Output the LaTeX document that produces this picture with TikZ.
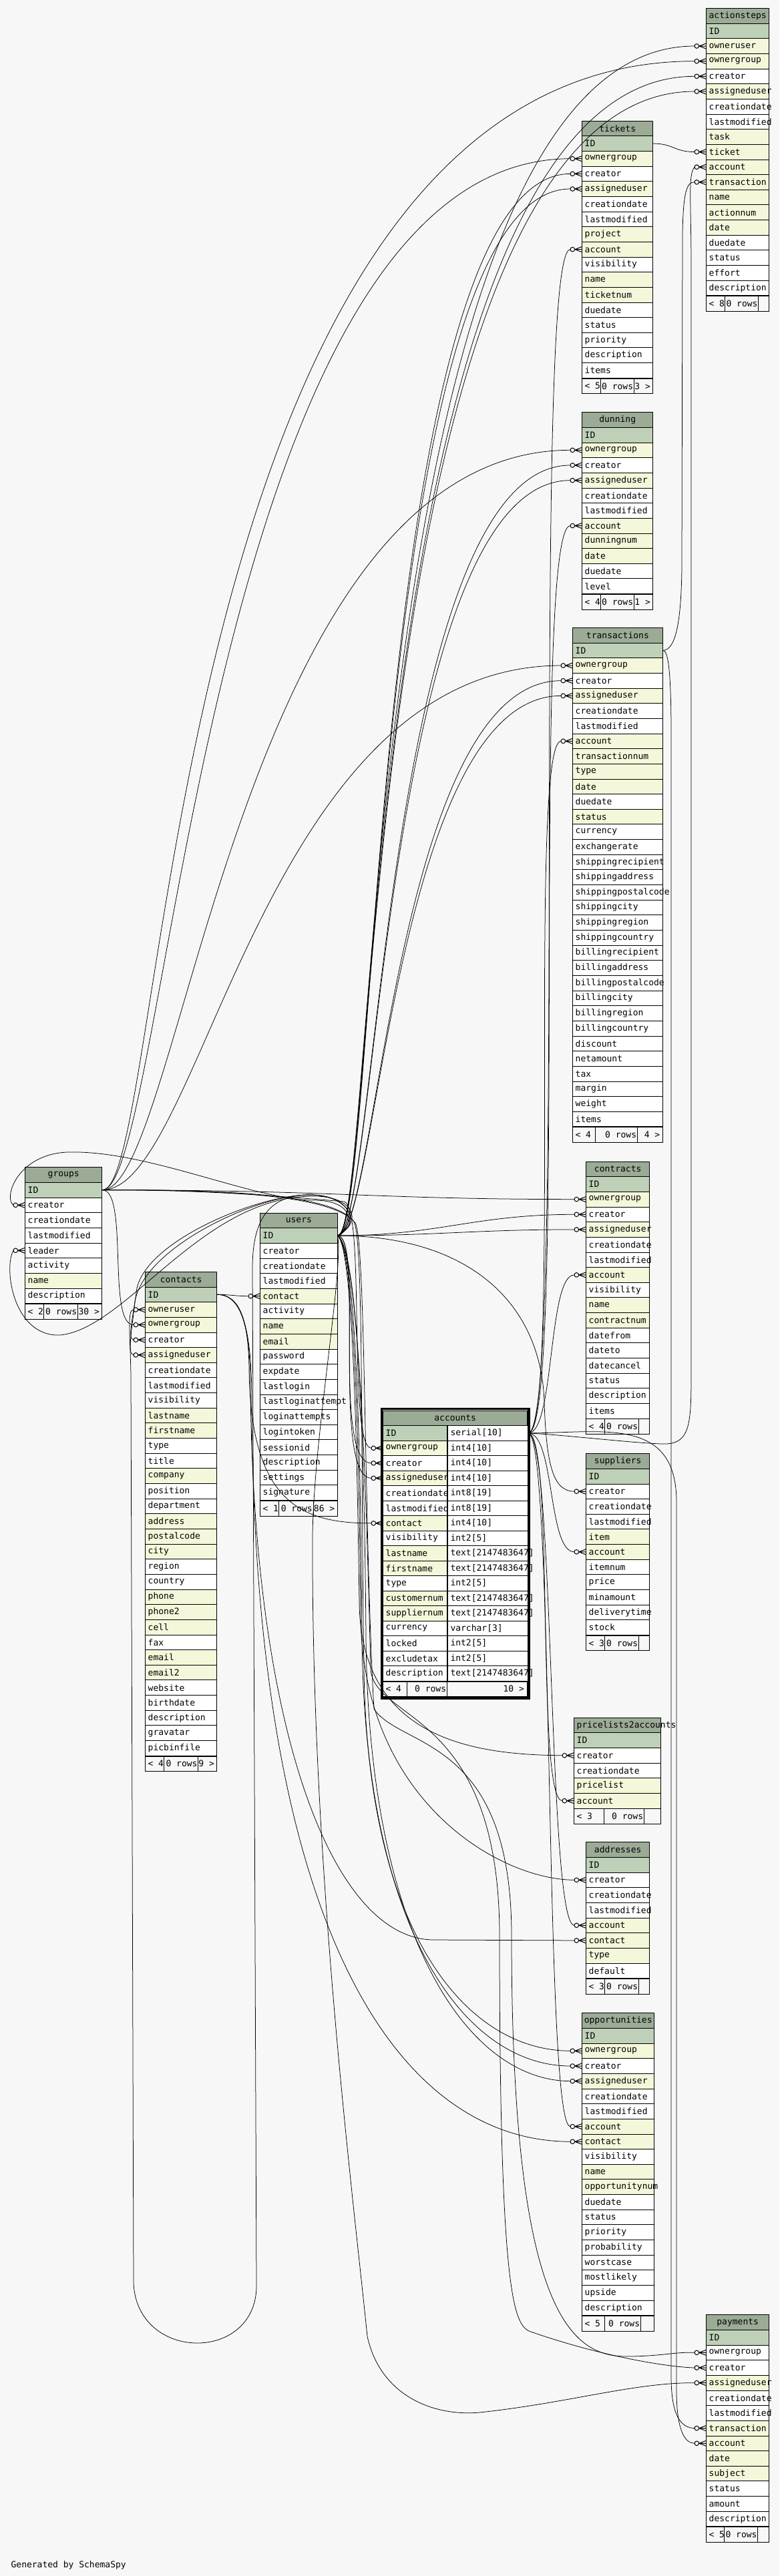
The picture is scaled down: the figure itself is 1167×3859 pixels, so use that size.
\documentclass[tikz,border=0pt]{standalone}
\usepackage{fontspec}
\setmonofont{DejaVu Sans Mono}
\usepackage{xcolor}
\usetikzlibrary{calc}

\definecolor{pagebg}{HTML}{F7F7F7}
\definecolor{hd}{HTML}{9BAB96}
\definecolor{pk}{HTML}{BED1B8}
\definecolor{ix}{HTML}{F4F7DA}
\colorlet{wh}{white}

\tikzset{
  cell/.style={draw=black, line width=0.8pt, anchor=north west, inner xsep=4pt, inner ysep=0pt,
    minimum height=22.65pt, font=\ttfamily\fontsize{13}{14}\selectfont},
  head/.style={cell, fill=hd},
  foot/.style={cell, fill=pagebg},
  ftxt/.style={inner sep=0pt, font=\ttfamily\fontsize{13}{14}\selectfont},
  rel/.style={draw=black, line width=0.75pt},
  crow/.style={draw=black, line width=1pt},
  frame/.style={draw=black, line width=3.5pt},
}

% table: [title align] name, x, y, width, rows
\newcommand{\dbtable}[6][c]{%
  \node[head, minimum width=#5pt] (#2) at (#3,#4) {\makebox[\dimexpr#5pt-8pt\relax][#1]{#2}};
  \foreach \f/\c [count=\n] in {#6}
    \node[cell, fill=\c, minimum width=#5pt] (#2-\f) at (#3,#4+22.65*\n)
      {\makebox[\dimexpr#5pt-8pt\relax][l]{\f}};
}
% footer: table, last row, width, d1, d2, left, mid, right
\newcommand{\dbfoot}[8]{%
  \node[foot, minimum width=#3pt] (#1-foot) at (#2.south west) {};
  \draw[line width=0.8pt] ([xshift=#4pt]#1-foot.north west) -- ([xshift=#4pt]#1-foot.south west)
    ([xshift=#5pt]#1-foot.north west) -- ([xshift=#5pt]#1-foot.south west);
  \node[ftxt, anchor=west] (#1-fa) at ([xshift=4pt]#1-foot.west) {#6};
  \node[ftxt, anchor=east] (#1-fb) at ([xshift=#5pt-1pt]#1-foot.west) {#7};
  \node[ftxt, anchor=east] (#1-fc) at ([xshift=-4pt]#1-foot.east) {#8};
}
% zero-or-many end at a column
\newcommand{\fk}[1]{%
  \draw[crow] ([xshift=-10.5pt]#1.west) -- ([yshift=4pt]#1.west)
    ([xshift=-10.5pt]#1.west) -- (#1.west)
    ([xshift=-10.5pt]#1.west) -- ([yshift=-4pt]#1.west);
  \draw[crow, fill=pagebg] ([xshift=-14pt]#1.west) circle (3.3pt);
  \coordinate (#1-fk) at ([xshift=-17.3pt]#1.west);
}
\newcommand{\rel}[4]{\draw[rel] (#1) .. controls ($(#1)+(#3,0)$) and ($(#2)+(-#4,0)$) .. (#2);}

\begin{document}
\begin{tikzpicture}[x=1pt, y=-1pt]
\fill[pagebg] (0,0) rectangle (1167,3859);
\useasboundingbox (0,0) rectangle (1167,3859);

\dbtable{actionsteps}{1057.3}{12}{94}{ID/pk, owneruser/ix, ownergroup/ix, creator/wh, assigneduser/ix,
  creationdate/wh, lastmodified/wh, task/ix, ticket/ix, account/ix, transaction/ix, name/ix,
  actionnum/ix, date/ix, duedate/wh, status/wh, effort/wh, description/wh}
\dbfoot{actionsteps}{actionsteps-description}{94}{28}{78.4}{< 8}{0 rows}{}

\dbtable{tickets}{871.3}{180.7}{106}{ID/pk, ownergroup/ix, creator/wh, assigneduser/ix, creationdate/wh,
  lastmodified/wh, project/ix, account/ix, visibility/wh, name/ix, ticketnum/ix, duedate/wh,
  status/wh, priority/wh, description/wh, items/wh}
\dbfoot{tickets}{tickets-items}{106}{28}{78}{< 5}{0 rows}{3 >}

\dbtable{dunning}{871.3}{617.3}{106}{ID/pk, ownergroup/ix, creator/wh, assigneduser/ix, creationdate/wh,
  lastmodified/wh, account/ix, dunningnum/ix, date/ix, duedate/wh, level/wh}
\dbfoot{dunning}{dunning-level}{106}{28}{78}{< 4}{0 rows}{1 >}

\dbtable{transactions}{857.3}{940}{134.4}{ID/pk, ownergroup/ix, creator/wh, assigneduser/ix,
  creationdate/wh, lastmodified/wh, account/ix, transactionnum/ix, type/ix, date/ix, duedate/wh,
  status/ix, currency/wh, exchangerate/wh, shippingrecipient/wh, shippingaddress/wh,
  shippingpostalcode/wh, shippingcity/wh, shippingregion/wh, shippingcountry/wh,
  billingrecipient/wh, billingaddress/wh, billingpostalcode/wh, billingcity/wh, billingregion/wh,
  billingcountry/wh, discount/wh, netamount/wh, tax/wh, margin/wh, weight/wh, items/wh}
\dbfoot{transactions}{transactions-items}{134.4}{34}{97}{< 4}{0 rows}{4 >}

\dbtable{groups}{37.3}{1748.3}{115}{ID/pk, creator/wh, creationdate/wh, lastmodified/wh, leader/wh,
  activity/wh, name/ix, description/wh}
\dbfoot{groups}{groups-description}{115}{28}{79}{< 2}{0 rows}{30 >}

\dbtable{users}{389.3}{1816.7}{115.4}{ID/pk, creator/wh, creationdate/wh, lastmodified/wh, contact/ix,
  activity/wh, name/ix, email/ix, password/wh, expdate/wh, lastlogin/wh, lastloginattempt/wh,
  loginattempts/wh, logintoken/wh, sessionid/wh, description/wh, settings/wh, signature/wh}
\dbfoot{users}{users-signature}{115.4}{28.4}{79.7}{< 1}{0 rows}{86 >}

\dbtable{contacts}{217.3}{1904.9}{107}{ID/pk, owneruser/ix, ownergroup/ix, creator/wh, assigneduser/ix,
  creationdate/wh, lastmodified/wh, visibility/wh, lastname/ix, firstname/ix, type/wh, title/wh,
  company/ix, position/wh, department/wh, address/ix, postalcode/ix, city/ix, region/wh,
  country/wh, phone/ix, phone2/ix, cell/ix, fax/wh, email/ix, email2/ix, website/wh,
  birthdate/wh, description/wh, gravatar/wh, picbinfile/wh}
\dbfoot{contacts}{contacts-picbinfile}{107}{28}{79.4}{< 4}{0 rows}{9 >}

\dbtable{contracts}{877.3}{1739.6}{95}{ID/pk, ownergroup/ix, creator/wh, assigneduser/ix, creationdate/wh,
  lastmodified/wh, account/ix, visibility/wh, name/ix, contractnum/ix, datefrom/wh, dateto/wh,
  datecancel/wh, status/wh, description/wh, items/wh}
\dbfoot{contracts}{contracts-items}{95}{28}{79}{< 4}{0 rows}{}

\dbtable{suppliers}{877.3}{2177.2}{95}{ID/pk, creator/wh, creationdate/wh, lastmodified/wh, item/ix,
  account/ix, itemnum/wh, price/wh, minamount/wh, deliverytime/wh, stock/wh}
\dbfoot{suppliers}{suppliers-stock}{95}{28}{79}{< 3}{0 rows}{}

% accounts, with column types
\node[head, minimum width=216pt, minimum height=22.5pt] (accounts) at (573.3,2112.7)
  {\makebox[208pt][c]{accounts}};
\foreach \f/\c/\ty [count=\n] in {ID/pk/serial[10], ownergroup/ix/int4[10], creator/wh/int4[10],
  assigneduser/ix/int4[10], creationdate/wh/int8[19], lastmodified/wh/int8[19], contact/ix/int4[10],
  visibility/wh/int2[5], lastname/ix/text[2147483647], firstname/ix/text[2147483647], type/wh/int2[5],
  customernum/ix/text[2147483647], suppliernum/ix/text[2147483647], currency/wh/varchar[3],
  locked/wh/int2[5], excludetax/wh/int2[5], description/wh/text[2147483647]} {
  \node[cell, fill=\c, minimum width=96pt, minimum height=22.5pt] (accounts-\f) at (573.3,2112.7+22.5*\n)
    {\makebox[88pt][l]{\f}};
  \node[cell, fill=white, minimum width=120pt, minimum height=22.5pt] (accounts-\f-type) at (accounts-\f.north east)
    {\makebox[112pt][l]{\ty}};
}
\node[foot, minimum width=216pt, minimum height=22.5pt] (accounts-foot) at (accounts-description.south west) {};
\draw[line width=0.8pt] ([xshift=36pt]accounts-foot.north west) -- ([xshift=36pt]accounts-foot.south west)
  ([xshift=96pt]accounts-foot.north west) -- ([xshift=96pt]accounts-foot.south west);
\node[ftxt, anchor=west] (accounts-fa) at ([xshift=4pt]accounts-foot.west) {< 4};
\node[ftxt, anchor=east] (accounts-fb) at ([xshift=95pt]accounts-foot.west) {0 rows};
\node[ftxt, anchor=east] (accounts-fc) at ([xshift=-5pt]accounts-foot.east) {10 >};
\draw[frame] ([shift={(-2pt,2pt)}]accounts.north west) rectangle ([shift={(2pt,-2pt)}]accounts-foot.south east);

\dbtable[l]{pricelists2accounts}{859.3}{2572.7}{130}{ID/pk, creator/wh, creationdate/wh, pricelist/ix, account/ix}
\dbfoot{pricelists2accounts}{pricelists2accounts-account}{130}{45}{105}{< 3}{0 rows}{}

\dbtable{addresses}{877.3}{2759.3}{95}{ID/pk, creator/wh, creationdate/wh, lastmodified/wh, account/ix,
  contact/ix, type/ix, default/wh}
\dbfoot{addresses}{addresses-default}{95}{28}{79}{< 3}{0 rows}{}

\dbtable{opportunities}{871.3}{3015.3}{108}{ID/pk, ownergroup/ix, creator/wh, assigneduser/ix,
  creationdate/wh, lastmodified/wh, account/ix, contact/ix, visibility/wh, name/ix,
  opportunitynum/ix, duedate/wh, status/wh, priority/wh, probability/wh, worstcase/wh,
  mostlikely/wh, upside/wh, description/wh}
\dbfoot{opportunities}{opportunities-description}{108}{34}{88}{< 5}{0 rows}{}

\dbtable{payments}{1057.3}{3467.3}{94}{ID/pk, ownergroup/wh, creator/wh, assigneduser/ix, creationdate/wh,
  lastmodified/wh, transaction/ix, account/ix, date/ix, subject/ix, status/wh, amount/wh, description/wh}
\dbfoot{payments}{payments-description}{94}{27.5}{77.4}{< 5}{0 rows}{}

\node[ftxt, anchor=west] (credit) at (16.4,3842.7) {Generated by SchemaSpy};

% many-ends
\foreach \r in {actionsteps-owneruser, actionsteps-ownergroup, actionsteps-creator, actionsteps-assigneduser,
  actionsteps-ticket, actionsteps-account, actionsteps-transaction,
  tickets-ownergroup, tickets-creator, tickets-assigneduser, tickets-account,
  dunning-ownergroup, dunning-creator, dunning-assigneduser, dunning-account,
  transactions-ownergroup, transactions-creator, transactions-assigneduser, transactions-account,
  groups-creator, groups-leader, users-contact,
  contacts-owneruser, contacts-ownergroup, contacts-creator, contacts-assigneduser,
  contracts-ownergroup, contracts-creator, contracts-assigneduser, contracts-account,
  accounts-ownergroup, accounts-creator, accounts-assigneduser, accounts-contact,
  suppliers-creator, suppliers-account, pricelists2accounts-creator, pricelists2accounts-account,
  addresses-creator, addresses-account, addresses-contact,
  opportunities-ownergroup, opportunities-creator, opportunities-assigneduser, opportunities-account,
  opportunities-contact, payments-ownergroup, payments-creator, payments-assigneduser,
  payments-transaction, payments-account}
  \fk{\r};

% groups
\rel{groups-ID.east}{actionsteps-ownergroup-fk}{100}{800}
\rel{groups-ID.east}{tickets-ownergroup-fk}{100}{550}
\rel{groups-ID.east}{dunning-ownergroup-fk}{120}{500}
\rel{groups-ID.east}{transactions-ownergroup-fk}{150}{450}
\rel{groups-ID.east}{contacts-ownergroup-fk}{40}{40}
\rel{groups-ID.east}{contracts-ownergroup-fk}{350}{300}
\draw[rel] (groups-ID.east) .. controls (300,1782) and (420,1792) .. (515,1800)
  .. controls (548,1805) and (520,2169) .. (accounts-ownergroup-fk);
\draw[rel] (groups-ID.east) .. controls (350,1782) and (500,1790) .. (530,1830)
  .. controls (545,1860) and (540,2200) .. (545,2500) .. controls (550,2900) and (700,3072) .. (opportunities-ownergroup-fk);
\draw[rel] (groups-ID.east) .. controls (350,1782) and (500,1792) .. (532,1832)
  .. controls (548,1860) and (545,2300) .. (560,2560) .. controls (600,2620) and (766,2600) .. (766,2900)
  .. controls (766,3450) and (850,3530) .. (937,3530) .. controls (990,3530) and (1010,3523) .. (payments-ownergroup-fk);

% users
\rel{users-ID.east}{actionsteps-owneruser-fk}{60}{500}
\rel{users-ID.east}{actionsteps-creator-fk}{60}{500}
\rel{users-ID.east}{actionsteps-assigneduser-fk}{60}{500}
\rel{users-ID.east}{tickets-creator-fk}{60}{300}
\rel{users-ID.east}{tickets-assigneduser-fk}{60}{300}
\rel{users-ID.east}{dunning-creator-fk}{60}{280}
\rel{users-ID.east}{dunning-assigneduser-fk}{60}{280}
\rel{users-ID.east}{transactions-creator-fk}{60}{250}
\rel{users-ID.east}{transactions-assigneduser-fk}{60}{250}
\rel{users-ID.east}{contracts-creator-fk}{150}{150}
\rel{users-ID.east}{contracts-assigneduser-fk}{150}{150}
\rel{users-ID.east}{accounts-creator-fk}{40}{60}
\rel{users-ID.east}{accounts-assigneduser-fk}{40}{60}
\draw[rel] (users-ID.east) .. controls (700,1851) and (810,1950) .. (815,2100)
  .. controls (818,2200) and (830,2234) .. (suppliers-creator-fk);
\draw[rel] (users-ID.east) .. controls (530,1870) and (535,2200) .. (538,2400)
  .. controls (540,2600) and (700,2629) .. (pricelists2accounts-creator-fk);
\draw[rel] (users-ID.east) .. controls (532,1870) and (538,2200) .. (540,2420)
  .. controls (543,2700) and (750,2816) .. (addresses-creator-fk);
\draw[rel] (users-ID.east) .. controls (535,1870) and (540,2200) .. (542,2450)
  .. controls (545,2900) and (700,3095) .. (opportunities-creator-fk);
\draw[rel] (users-ID.east) .. controls (538,1870) and (546,2200) .. (548,2450)
  .. controls (551,2900) and (700,3117) .. (opportunities-assigneduser-fk);
\draw[rel] (users-ID.east) .. controls (540,1870) and (550,2300) .. (555,2500)
  .. controls (560,2580) and (748,2560) .. (748,2900) .. controls (748,3440) and (770,3480) .. (792,3492)
  .. controls (900,3530) and (1000,3546) .. (payments-creator-fk);
\draw[rel] (users-ID.east) .. controls (515,1900) and (470,2150) .. (468,2300)
  .. controls (466,2800) and (530,3300) .. (550,3500) .. controls (570,3590) and (650,3620) .. (718,3614)
  .. controls (850,3600) and (950,3569) .. (payments-assigneduser-fk);
\draw[rel] (users-ID.east) .. controls (535,1830) and (525,1798) .. (470,1798)
  .. controls (380,1798) and (220,1722) .. (100,1726) .. controls (25,1730) and (5,1795) .. (groups-creator-fk);
\draw[rel] (users-ID.east) .. controls (545,1830) and (530,1790) .. (465,1792)
  .. controls (300,1795) and (190,1990) .. (90,2000) .. controls (20,2003) and (5,1900) .. (groups-leader-fk);
\draw[rel] (users-ID.east) .. controls (545,1830) and (520,1788) .. (460,1790)
  .. controls (400,1792) and (378,1830) .. (378,1900) -- (384,3420)
  .. controls (388,3540) and (205,3540) .. (200,3420) -- (196,2060)
  .. controls (195,2000) and (190,1962) .. (contacts-owneruser-fk);
\draw[rel] (users-ID.east) .. controls (545,1830) and (520,1788) .. (460,1790)
  .. controls (380,1792) and (220,1860) .. (205,1930) .. controls (200,1970) and (190,2006) .. (contacts-creator-fk);
\draw[rel] (users-ID.east) .. controls (545,1830) and (520,1788) .. (460,1790)
  .. controls (380,1792) and (215,1870) .. (202,1950) .. controls (198,1990) and (190,2029) .. (contacts-assigneduser-fk);

% contacts
\rel{contacts-ID.east}{users-contact-fk}{20}{20}
\draw[rel] (contacts-ID.east) .. controls (360,1939) and (372,1980) .. (373,2050)
  .. controls (375,2250) and (450,2282) .. (accounts-contact-fk);
\draw[rel] (contacts-ID.east) .. controls (362,1939) and (375,1990) .. (375,2080)
  .. controls (380,2600) and (500,2906) .. (650,2906) -- (addresses-contact-fk);
\draw[rel] (contacts-ID.east) .. controls (364,1939) and (377,1995) .. (377,2100)
  .. controls (380,2900) and (600,3208) .. (opportunities-contact-fk);

% accounts
\draw[rel] (accounts-ID-type.east) .. controls (850,2150) and (960,2163) .. (995,2163)
  .. controls (1035,2163) and (1035,2130) .. (1035,2050) -- (1035,400)
  .. controls (1035,300) and (1030,262) .. (actionsteps-account-fk);
\rel{accounts-ID-type.east}{tickets-account-fk}{60}{60}
\rel{accounts-ID-type.east}{dunning-account-fk}{60}{60}
\rel{accounts-ID-type.east}{transactions-account-fk}{50}{50}
\rel{accounts-ID-type.east}{contracts-account-fk}{40}{40}
\rel{accounts-ID-type.east}{suppliers-account-fk}{40}{40}
\rel{accounts-ID-type.east}{pricelists2accounts-account-fk}{40}{40}
\rel{accounts-ID-type.east}{addresses-account-fk}{40}{40}
\rel{accounts-ID-type.east}{opportunities-account-fk}{40}{40}
\draw[rel] (accounts-ID-type.east) .. controls (900,2147) and (1013,2120) .. (1013,2250) -- (1013,3580)
  .. controls (1013,3640) and (1025,3660) .. (payments-account-fk);

% tickets, transactions
\rel{tickets-ID.east}{actionsteps-ticket-fk}{30}{30}
\draw[rel] (transactions-ID.east) .. controls (1010,974) and (1020,940) .. (1021,850) -- (1022,350)
  .. controls (1023,290) and (1028,272) .. (actionsteps-transaction-fk);
\draw[rel] (transactions-ID.east) .. controls (1000,974) and (1005,1000) .. (1005,1100) -- (1005,3560)
  .. controls (1005,3620) and (1020,3637) .. (payments-transaction-fk);
\end{tikzpicture}
\end{document}
